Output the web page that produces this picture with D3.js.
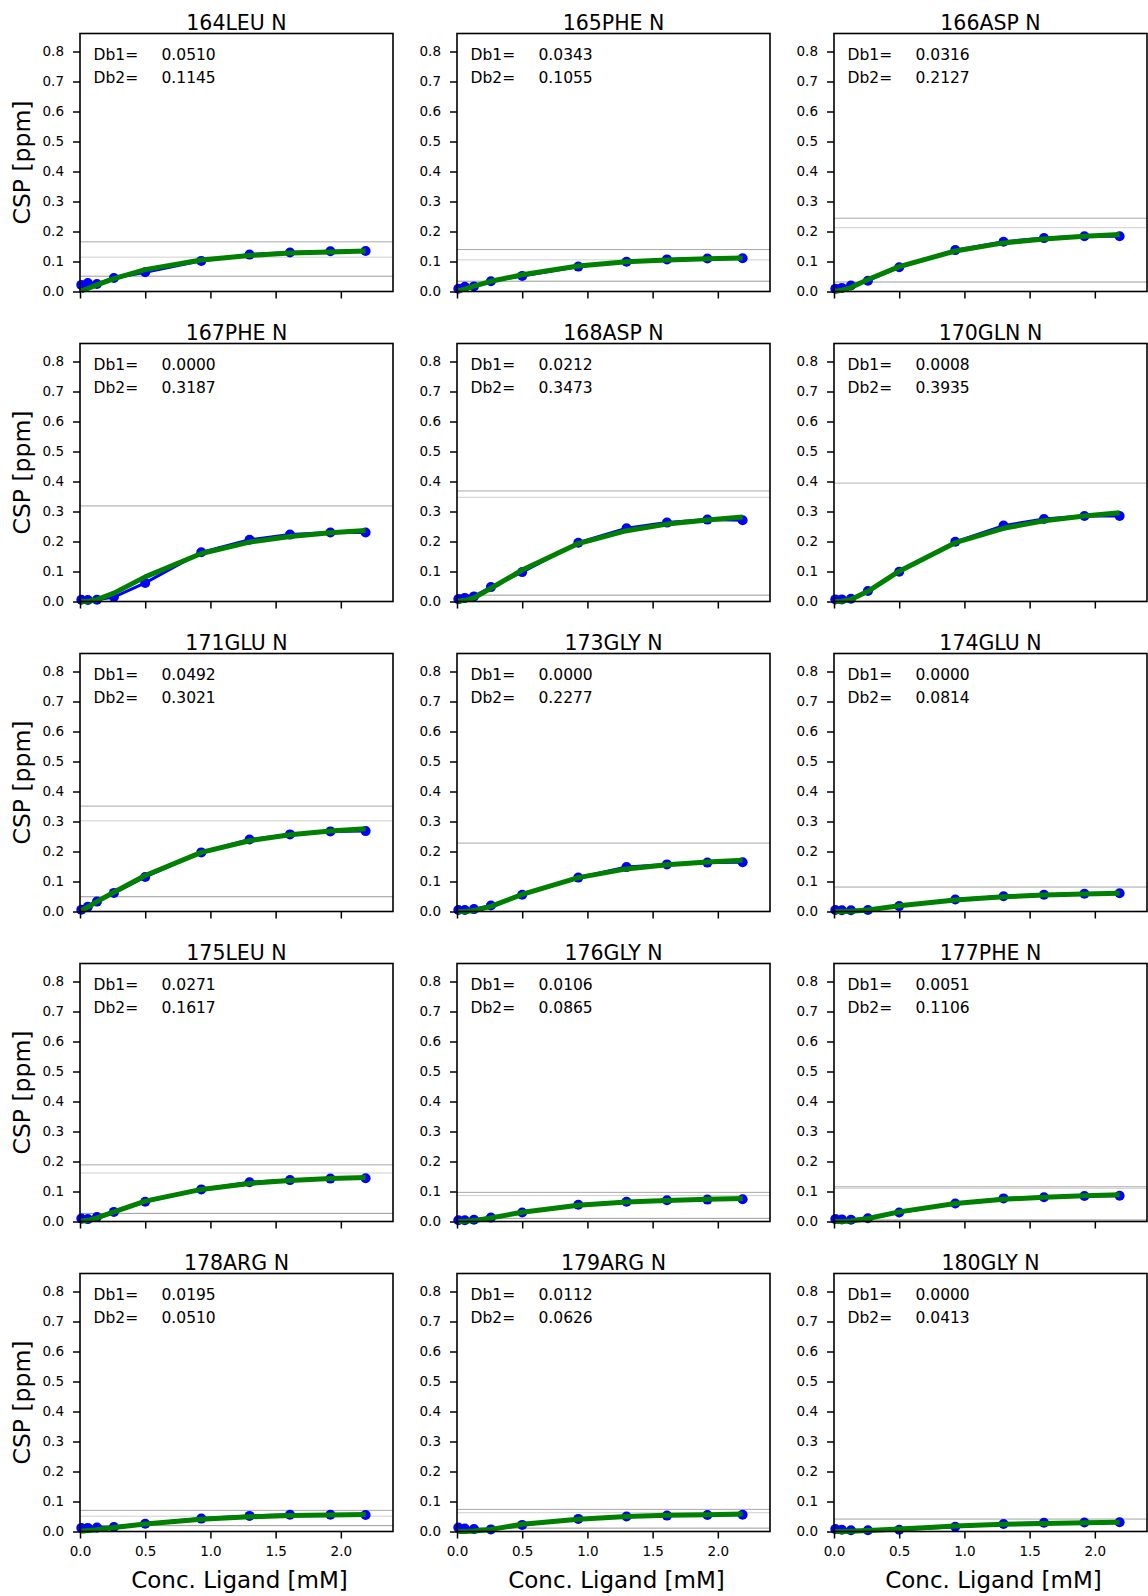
<!DOCTYPE html>
<html>
<head>
<meta charset="utf-8">
<script src="https://cdn.jsdelivr.net/npm/d3@7"></script>
<style>
  body { margin: 0; background: #fff; }
  svg { display: block; font-family: "DejaVu Sans", sans-serif; }
  .axis path, .axis line { stroke: #000; }
</style>
</head>
<body>
<div id="chart"></div>
<script>
const residues = ["164LEU N", "165PHE N", "166ASP N", "167PHE N", "168ASP N", "170GLN N",
    "171GLU N", "173GLY N", "174GLU N", "175LEU N", "176GLY N", "177PHE N",
    "178ARG N", "179ARG N", "180GLY N"];

const db1 = [0.0510, 0.0343, 0.0316, 0.0000, 0.0212, 0.0008, 0.0492, 0.0000, 0.0000,
    0.0271, 0.0106, 0.0051, 0.0195, 0.0112, 0.0000];
const db2 = [0.1145, 0.1055, 0.2127, 0.3187, 0.3473, 0.3935, 0.3021, 0.2277, 0.0814,
    0.1617, 0.0865, 0.1106, 0.0510, 0.0626, 0.0413];

// ligand concentrations [mM]
const conc = [0.01, 0.06, 0.13, 0.26, 0.5, 0.93, 1.30, 1.61, 1.92, 2.19];

// measured CSP [ppm]
const csp = [
    [0.022, 0.028, 0.025, 0.045, 0.064, 0.102, 0.123, 0.130, 0.134, 0.135],
    [0.009, 0.016, 0.017, 0.034, 0.052, 0.083, 0.099, 0.107, 0.110, 0.111],
    [0.009, 0.012, 0.020, 0.036, 0.081, 0.138, 0.166, 0.178, 0.184, 0.184],
    [0.006, 0.005, 0.006, 0.015, 0.062, 0.164, 0.206, 0.223, 0.230, 0.230],
    [0.008, 0.012, 0.017, 0.048, 0.098, 0.196, 0.244, 0.263, 0.273, 0.271],
    [0.007, 0.007, 0.009, 0.035, 0.099, 0.199, 0.253, 0.275, 0.285, 0.285],
    [0.006, 0.016, 0.033, 0.062, 0.115, 0.197, 0.240, 0.257, 0.267, 0.268],
    [0.005, 0.005, 0.008, 0.020, 0.056, 0.113, 0.148, 0.157, 0.163, 0.164],
    [0.005, 0.004, 0.004, 0.005, 0.018, 0.040, 0.051, 0.056, 0.059, 0.061],
    [0.010, 0.008, 0.015, 0.032, 0.066, 0.107, 0.131, 0.138, 0.143, 0.144],
    [0.004, 0.004, 0.006, 0.013, 0.030, 0.056, 0.066, 0.071, 0.073, 0.074],
    [0.008, 0.007, 0.006, 0.011, 0.030, 0.060, 0.077, 0.081, 0.085, 0.086],
    [0.012, 0.012, 0.013, 0.015, 0.026, 0.043, 0.052, 0.056, 0.056, 0.055],
    [0.013, 0.010, 0.008, 0.007, 0.022, 0.042, 0.050, 0.053, 0.055, 0.056],
    [0.008, 0.006, 0.004, 0.004, 0.006, 0.016, 0.025, 0.029, 0.030, 0.031]
];

// fitted CSP [ppm] at the same concentrations
const fit = [
    [0.002, 0.010, 0.022, 0.043, 0.073, 0.105, 0.120, 0.128, 0.132, 0.135],
    [0.002, 0.008, 0.018, 0.034, 0.056, 0.085, 0.099, 0.105, 0.109, 0.112],
    [0.001, 0.004, 0.013, 0.040, 0.083, 0.135, 0.162, 0.175, 0.184, 0.190],
    [0.000, 0.001, 0.006, 0.028, 0.082, 0.160, 0.198, 0.217, 0.229, 0.237],
    [0.001, 0.004, 0.012, 0.044, 0.105, 0.193, 0.236, 0.258, 0.272, 0.282],
    [0.000, 0.001, 0.007, 0.034, 0.101, 0.196, 0.244, 0.269, 0.285, 0.296],
    [0.003, 0.015, 0.033, 0.064, 0.120, 0.197, 0.236, 0.256, 0.268, 0.276],
    [0.000, 0.000, 0.003, 0.017, 0.057, 0.113, 0.142, 0.156, 0.165, 0.171],
    [0.000, 0.000, 0.001, 0.005, 0.019, 0.038, 0.049, 0.055, 0.058, 0.061],
    [0.001, 0.004, 0.012, 0.032, 0.068, 0.107, 0.127, 0.137, 0.143, 0.147],
    [0.000, 0.001, 0.003, 0.012, 0.031, 0.054, 0.065, 0.070, 0.074, 0.077],
    [0.000, 0.000, 0.002, 0.010, 0.032, 0.060, 0.074, 0.081, 0.086, 0.089],
    [0.001, 0.003, 0.006, 0.013, 0.025, 0.041, 0.049, 0.053, 0.055, 0.057],
    [0.000, 0.000, 0.002, 0.007, 0.024, 0.041, 0.050, 0.054, 0.056, 0.058],
    [0.000, 0.000, 0.001, 0.003, 0.008, 0.018, 0.024, 0.027, 0.029, 0.031]
];

const xTicks = [0, 0.5, 1.0, 1.5, 2.0];
const yTicks = [0, 0.1, 0.2, 0.3, 0.4, 0.5, 0.6, 0.7, 0.8];

const W = 1148, H = 1596;
const nCols = 3;
const colLeft = [80, 457, 834];
const rowTop0 = 33.5, rowStep = 310;
const pw = 313, ph = 258;

const svg = d3.select("#chart")
    .append("svg")
    .attr("width", W)
    .attr("height", H);

svg.append("rect").attr("width", W).attr("height", H).attr("fill", "#fff");

const x = d3.scaleLinear().domain([0, 2.4]).range([0, pw]);
const y = d3.scaleLinear().domain([0, 0.86]).range([ph, 0]);

const nRows = Math.ceil(residues.length / nCols);

function styleAxis(sel) {
    sel.attr("font-family", "DejaVu Sans").attr("font-size", 13.5);
    sel.select(".domain").remove();
    sel.selectAll("line").attr("stroke-width", 1.5);
    sel.selectAll("text").attr("fill", "#000");
}

residues.forEach((name, i) => {
    const col = i % nCols;
    const row = Math.floor(i / nCols);
    const g = svg.append("g")
        .attr("transform", `translate(${colLeft[col]},${rowTop0 + row * rowStep})`);

    // reference levels: Db1+Db2, Db2, Db1
    const levels = [
        { v: db1[i] + db2[i], c: "#a8a8a8" },
        { v: db2[i], c: "#cfcfcf" },
        { v: db1[i], c: "#9a9a9a" }
    ];
    g.selectAll(".level")
        .data(levels)
        .enter()
        .append("line")
        .attr("x1", 0)
        .attr("x2", pw)
        .attr("y1", d => y(d.v))
        .attr("y2", d => y(d.v))
        .attr("stroke", d => d.c)
        .attr("stroke-width", 1);

    const pts = conc.map((c, k) => [c, csp[i][k]]);
    const fitPts = conc.map((c, k) => [c, fit[i][k]]);
    const line = d3.line().x(d => x(d[0])).y(d => y(d[1]));

    g.append("path")
        .attr("d", line(pts))
        .attr("fill", "none")
        .attr("stroke", "blue")
        .attr("stroke-width", 3);

    g.selectAll(".pt")
        .data(pts)
        .enter()
        .append("circle")
        .attr("cx", d => x(d[0]))
        .attr("cy", d => y(d[1]))
        .attr("r", 5)
        .attr("fill", "blue");

    g.append("path")
        .attr("d", line(fitPts))
        .attr("fill", "none")
        .attr("stroke", "green")
        .attr("stroke-width", 5)
        .attr("stroke-linejoin", "round");

    // axes
    const yAxis = d3.axisLeft(y)
        .tickValues(yTicks)
        .tickFormat(d3.format(".1f"))
        .tickSize(7)
        .tickPadding(9);
    g.append("g").call(yAxis).call(styleAxis);

    const xAxis = d3.axisBottom(x)
        .tickValues(xTicks)
        .tickFormat(row === nRows - 1 ? d3.format(".1f") : "")
        .tickSize(7)
        .tickPadding(8);
    g.append("g")
        .attr("transform", `translate(0,${ph})`)
        .call(xAxis)
        .call(styleAxis);

    g.append("rect")
        .attr("width", pw)
        .attr("height", ph)
        .attr("fill", "none")
        .attr("stroke", "#000")
        .attr("stroke-width", 1.6);

    g.append("text")
        .attr("x", pw / 2)
        .attr("y", -4)
        .attr("text-anchor", "middle")
        .style("font-size", "20.5px")
        .text(name);

    const info = [["Db1=", db1[i]], ["Db2=", db2[i]]];
    info.forEach((d, k) => {
        g.append("text")
            .attr("x", 13.5)
            .attr("y", 26 + k * 23.5)
            .style("font-size", "15.5px")
            .text(d[0]);
        g.append("text")
            .attr("x", 81.5)
            .attr("y", 26 + k * 23.5)
            .style("font-size", "15.5px")
            .text(d[1].toFixed(4));
    });

    if (col === 0) {
        g.append("text")
            .attr("transform", `translate(-50,${ph / 2}) rotate(-90)`)
            .attr("text-anchor", "middle")
            .style("font-size", "23.5px")
            .text("CSP [ppm]");
    }
    if (row === nRows - 1) {
        g.append("text")
            .attr("x", pw / 2 + 3)
            .attr("y", ph + 56)
            .attr("text-anchor", "middle")
            .style("font-size", "23px")
            .text("Conc. Ligand [mM]");
    }
});
</script>
</body>
</html>
